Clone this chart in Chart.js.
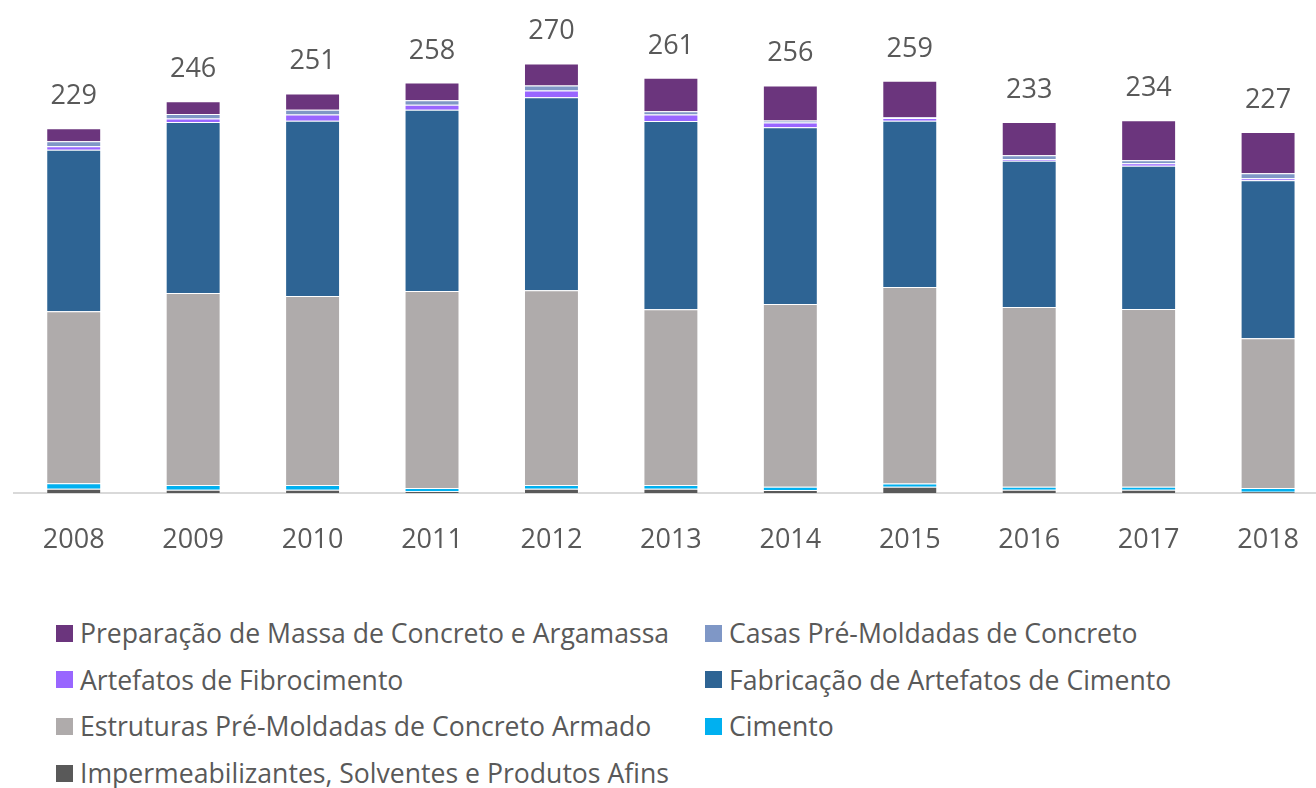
<!DOCTYPE html>
<html>
<head>
<meta charset="utf-8">
<script src="https://cdn.jsdelivr.net/npm/chart.js@4.4.0/dist/chart.umd.min.js"></script>
<style>
  html, body { margin: 0; padding: 0; background: #fff; overflow: hidden; }
  #wrap { position: relative; width: 1316px; height: 788px; overflow: hidden; }
  #chart { position: absolute; left: 0; top: 0; }
  .leg-item {
    position: absolute; height: 40px; display: flex; align-items: center;
    font-family: "Open Sans", sans-serif; font-size: 26.6px; color: #595959; white-space: nowrap;
  }
  .leg-box { width: 17px; height: 17px; margin-right: 7px; }
</style>
</head>
<body>
<div id="wrap">
  <canvas id="chart" width="1330" height="553"></canvas>
  <div id="legend"></div>
</div>
<script>
// data, stacked bottom -> top
const years = ['2008', '2009', '2010', '2011', '2012', '2013', '2014', '2015', '2016', '2017', '2018'];
const impermeabilizantes = [2.7, 2.1, 2.1, 1.1, 2.7, 2.7, 1.9, 4.0, 2.1, 2.1, 0.8];
const cimento            = [3.4, 2.9, 2.9, 2.1, 2.3, 2.3, 2.1, 1.9, 1.9, 1.9, 2.3];
const estruturas         = [108.0, 120.5, 118.6, 123.6, 122.3, 110.4, 114.6, 123.4, 112.7, 111.5, 94.1];
const fabricacao         = [101.4, 107.4, 110.0, 113.7, 121.1, 118.1, 111.0, 104.3, 91.8, 89.9, 99.1];
const fibrocimento       = [2.1, 2.1, 4.0, 3.1, 4.2, 4.0, 2.9, 1.7, 1.1, 1.5, 1.3];
const casas              = [3.1, 2.9, 2.9, 2.9, 3.1, 2.1, 1.3, 0.5, 2.3, 1.9, 3.1];
const preparacao         = [8.2, 7.9, 10.3, 11.1, 13.9, 21.0, 22.0, 23.0, 20.9, 25.1, 25.9];

const series = [
  { label: 'Impermeabilizantes, Solventes e Produtos Afins', data: impermeabilizantes, color: '#595959' },
  { label: 'Cimento', data: cimento, color: '#00B0F0' },
  { label: 'Estruturas Pré-Moldadas de Concreto Armado', data: estruturas, color: '#AFABAB' },
  { label: 'Fabricação de Artefatos de Cimento', data: fabricacao, color: '#2E6494' },
  { label: 'Artefatos de Fibrocimento', data: fibrocimento, color: '#9966FF' },
  { label: 'Casas Pré-Moldadas de Concreto', data: casas, color: '#7F97C6' },
  { label: 'Preparação de Massa de Concreto e Argamassa', data: preparacao, color: '#6B357D' }
];

const textColor = '#595959';
const font = '"Open Sans", sans-serif';

// totals above each stack
const totalsPlugin = {
  id: 'totals',
  afterDatasetsDraw(chart) {
    const ctx = chart.ctx;
    const last = chart.getDatasetMeta(chart.data.datasets.length - 1);
    ctx.save();
    ctx.font = '27px ' + font;
    ctx.fillStyle = textColor;
    ctx.textAlign = 'center';
    ctx.textBaseline = 'alphabetic';
    years.forEach((y, i) => {
      let total = 0;
      chart.data.datasets.forEach(ds => { total += ds.data[i]; });
      const bar = last.data[i];
      ctx.fillText(Math.round(total), bar.x, bar.y - 24);
    });
    ctx.restore();
  }
};

new Chart(document.getElementById('chart'), {
  type: 'bar',
  data: {
    labels: years,
    datasets: series.map(s => ({
      label: s.label,
      data: s.data,
      backgroundColor: s.color,
      borderColor: 'rgba(255,255,255,0.3)',
      borderWidth: 1,
      barPercentage: 0.46,
      categoryPercentage: 1.0
    }))
  },
  options: {
    responsive: false,
    animation: false,
    devicePixelRatio: 1,
    layout: { padding: { top: 15, left: 14, right: 1, bottom: 0 } },
    plugins: { legend: { display: false }, tooltip: { enabled: false } },
    scales: {
      x: {
        stacked: true,
        grid: { display: false, drawTicks: false },
        border: { display: true, color: '#D9D9D9', width: 2 },
        ticks: { color: textColor, font: { family: font, size: 27 }, padding: 31 },
        afterFit: (s) => { s.height = 60; }
      },
      y: {
        stacked: true,
        display: false,
        min: 0,
        max: 300
      }
    }
  },
  plugins: [totalsPlugin]
});

// two-column legend, top series first
const legendOrder = series.slice().reverse();
const legend = document.getElementById('legend');
legendOrder.forEach((s, i) => {
  const col = i % 2, row = Math.floor(i / 2);
  const item = document.createElement('div');
  item.className = 'leg-item';
  item.style.left = (col === 0 ? 56 : 705) + 'px';
  item.style.top = (613 + row * 46.7) + 'px';
  item.innerHTML = '<span class="leg-box" style="background:' + s.color + '"></span><span>' + s.label + '</span>';
  legend.appendChild(item);
});
</script>
</body>
</html>
